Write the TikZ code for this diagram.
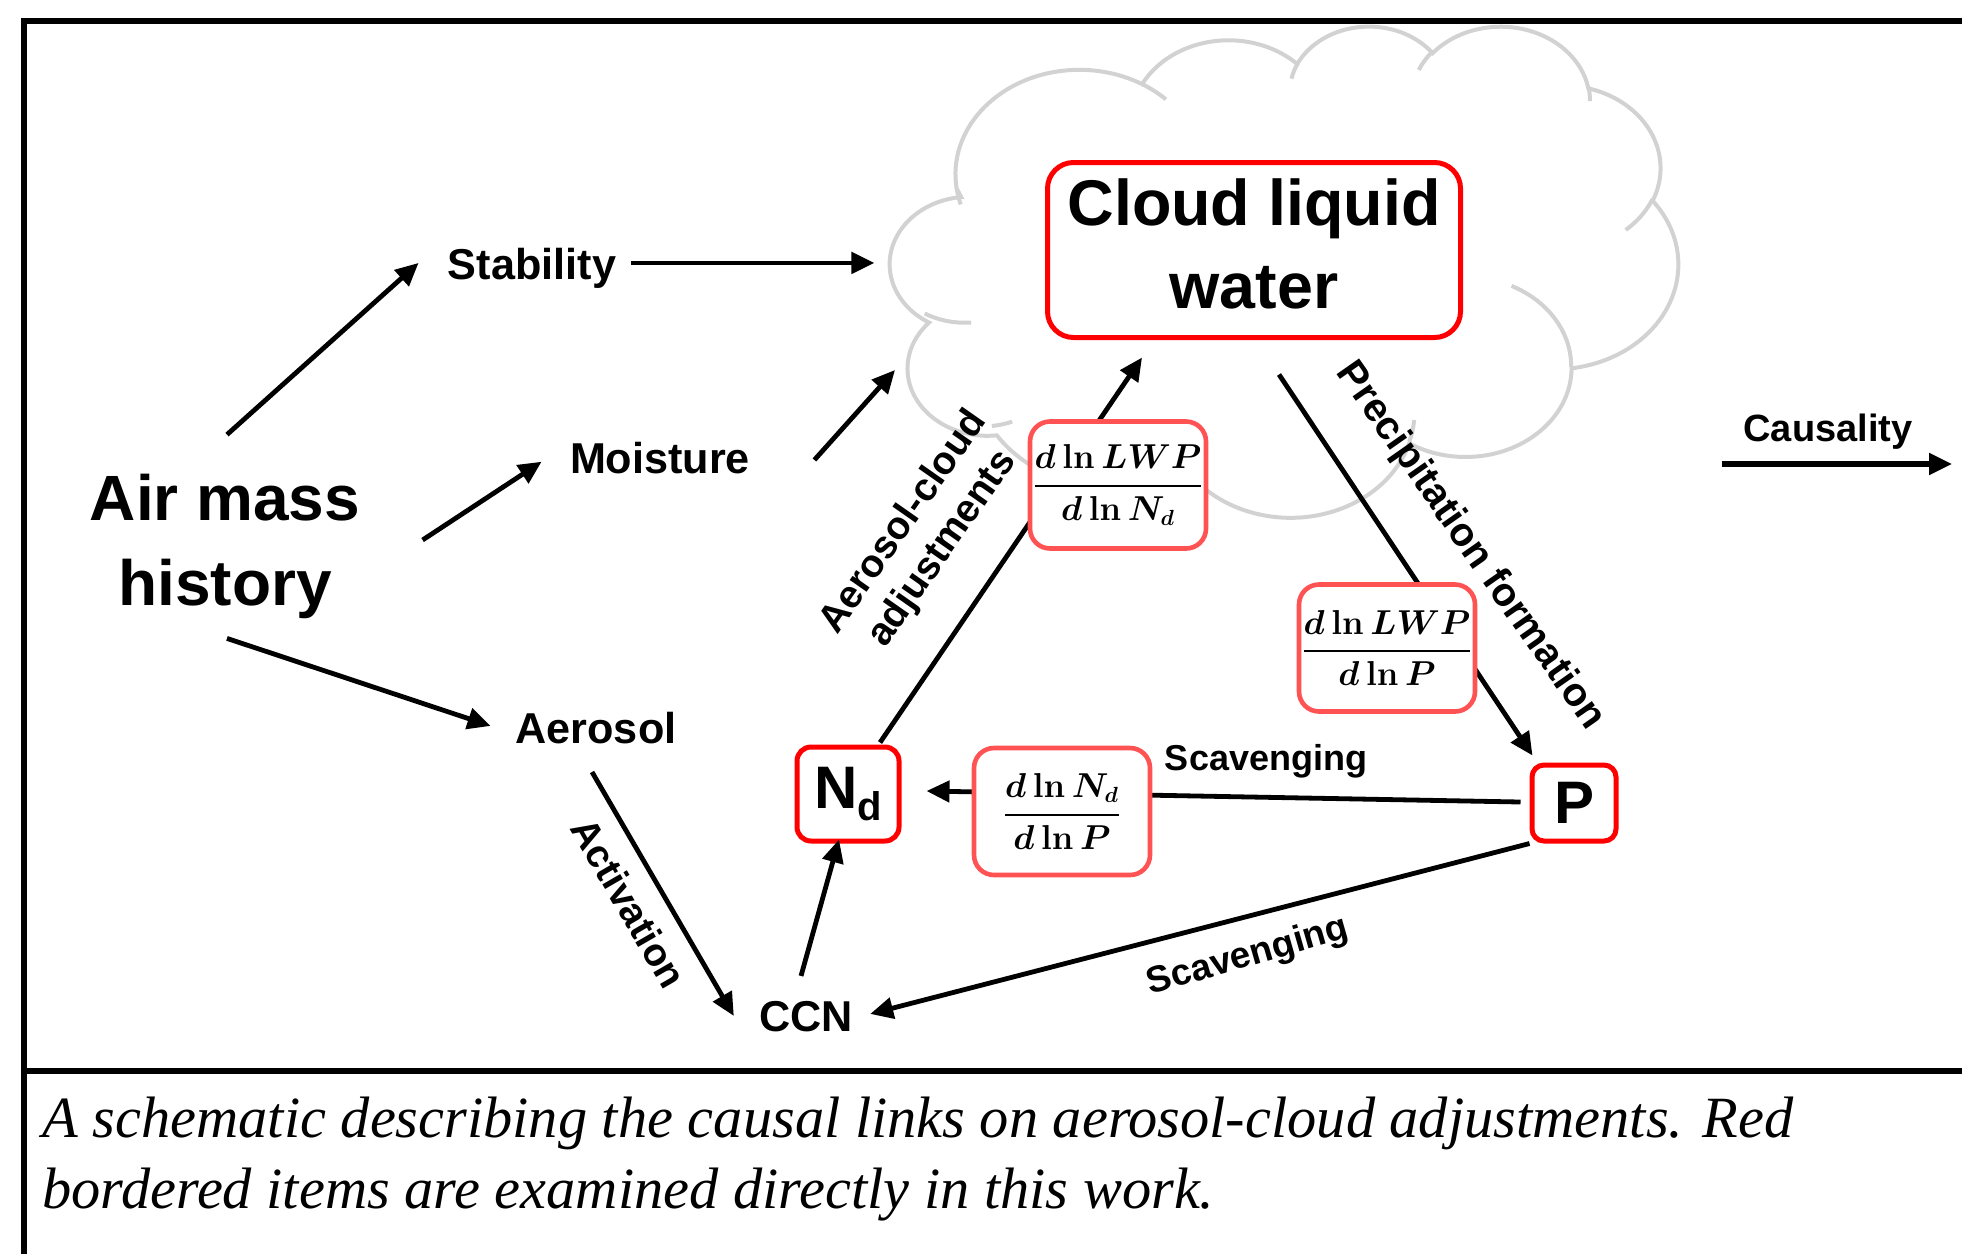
\documentclass[tikz,border=0pt]{standalone}
\usepackage{amsmath}
\usepackage[no-math]{fontspec}
\setmainfont{Liberation Sans}
\newfontfamily\capfont{Liberation Serif}
\usetikzlibrary{arrows.meta}
\definecolor{boxred}{RGB}{255,0,0}
\definecolor{fracred}{RGB}{255,82,82}
\definecolor{cloudgray}{RGB}{210,210,210}
\newcommand\cldprep[5]{%
  \pgfmathsetmacro\cldS{atan2((#2)*sin(#4),(#3)*cos(#4))}%
  \pgfmathsetmacro\cldE{atan2((#2)*sin((#4)+(#5)),(#3)*cos((#4)+(#5)))}%
  \pgfmathsetmacro\cldE{(\cldE<\cldS)?(\cldE+360):(\cldE)}%
  \edef\cldtmp{\noexpand\tikzset{#1/.style={start angle=\cldS,end angle=\cldE,x radius=#2,y radius=#3}}}%
  \cldtmp}
\newcommand\lnfrac[2]{\genfrac{}{}{1.1pt}{0}{#1}{#2}}
\cldprep{cka}{15.632}{21.273}{-190.4875}{123.7805}
\cldprep{ckb}{12.345}{16.822}{-144.1024}{89.9452}
\cldprep{ckc}{10.104}{13.762}{-145.8079}{99.7230}
\cldprep{ckd}{11.243}{15.266}{-130.9861}{117.2417}
\cldprep{cke}{12.345}{16.836}{-78.7089}{109.0269}
\cldprep{ckf}{15.683}{21.343}{-46.2673}{130.2690}
\cldprep{ckg}{13.391}{18.211}{0.6250}{114.0333}
\cldprep{ckh}{15.630}{21.331}{22.4516}{115.1726}
\cldprep{cki}{17.870}{24.405}{66.2426}{71.2560}
\cldprep{ckj}{10.093}{13.699}{-274.9421}{146.7355}
\cldprep{ckk}{10.058}{13.762}{-246.8285}{152.5213}
\cldprep{cda}{10.058}{13.762}{86.7420}{26.4295}
\cldprep{cdb}{10.093}{13.699}{73.6105}{11.4475}
\cldprep{cdc}{15.630}{21.331}{137.6242}{14.0811}
\cldprep{cdd}{15.630}{21.331}{6.4533}{15.9984}
\cldprep{cde}{13.391}{18.211}{-70.2924}{70.9174}
\cldprep{cdf}{12.345}{16.836}{30.3180}{27.7515}
\cldprep{cdg}{11.243}{15.266}{-13.7443}{14.8589}
\cldprep{cdh}{11.243}{15.266}{-149.1815}{18.1954}
\cldprep{cdi}{10.104}{13.762}{-163.4943}{17.6864}
\cldprep{cdj}{15.632}{21.273}{-66.7070}{12.3194}
\cldprep{cdk}{15.632}{21.273}{157.6544}{11.8582}
\begin{document}
\begin{tikzpicture}[x=0.5pt,y=-0.5pt,
  arr/.style={line width=2.4pt,-{Triangle[length=11.5pt,width=10.5pt]}},
  txt/.style={inner sep=0pt,font=\fontsize{21.6}{26}\selectfont\bfseries},
  elbl/.style={inner sep=0pt,font=\fontsize{19.5}{23.5}\selectfont\bfseries},
  redbox/.style={draw=boxred,line width=2.5pt,fill=white,inner sep=0pt,font=\fontsize{30}{36}\selectfont\bfseries},
  fracbox/.style={draw=fracred,line width=2.3pt,fill=white,rounded corners=10pt,inner sep=0pt,minimum width=88pt,minimum height=63.5pt,font=\fontsize{16.2}{20}\selectfont\boldmath},
  cloudln/.style={draw=cloudgray,line width=2pt},
  frameln/.style={line width=2.8pt}]
\useasboundingbox (0,0) rectangle (1962,1254);
\draw[frameln] (1962,21) -- (24,21) -- (24,1254);
\draw[frameln] (24,1071) -- (1962,1071);
% cloud
\begin{scope}[shift={(885,25)},xscale=7.93,yscale=4.91]
\draw[cloudln,fill=white] (9.028,33.264) arc[cka] arc[ckb] arc[ckc] arc[ckd] arc[cke] arc[ckf] arc[ckg] arc[ckh] arc[cki] arc[ckj] arc[ckk] -- cycle;
\draw[cloudln] (10.863,60.595) arc[cda] (16.037,80.785) arc[cdb] (38.144,90.486) arc[cdc] (66.729,80.442) arc[cdd] (79.002,53.134) arc[cde] (96.755,35.542) arc[cdf] (88.713,12.560) arc[cdg] (67.310,9.148) arc[cdh] (51.252,10.926) arc[cdi] (32.407,12.019) arc[cdj] (9.553,36.549) arc[cdk];
\end{scope}
% nodes
\node[txt,font=\fontsize{32}{42.5}\selectfont\bfseries,anchor=base] (amh) at (225,520) {\begin{tabular}[t]{@{}c@{}}Air mass\\history\end{tabular}};
\node[txt,anchor=base] (stab) at (532,279) {Stability};
\node[txt,anchor=base] (moist) at (660,473) {Moisture};
\node[txt,anchor=base] (aer) at (596,743) {Aerosol};
\node[txt,anchor=base] (ccn) at (806,1031) {CCN};
\node[redbox,minimum width=206.5pt,minimum height=87.5pt,rounded corners=13pt,font=\fontsize{32.3}{41.5}\selectfont\bfseries] (clw) at (1254,250) {\begin{tabular}{@{}c@{}}Cloud liquid\\water\end{tabular}};
\node[redbox,minimum width=51pt,minimum height=47pt,rounded corners=7pt] (nd) at (848,794) {N\raisebox{-6pt}{\fontsize{20}{24}\selectfont d}};
\node[redbox,minimum width=42pt,minimum height=38pt,rounded corners=6pt] (p) at (1574,803) {P};
\node[txt,font=\fontsize{19}{23}\selectfont\bfseries,anchor=base] (caus) at (1828,441) {Causality};
\coordinate (cl1) at ([xshift=129pt,yshift=5.4pt]stab.mid east);
\coordinate (cl2) at (895,370);
% connectors
\draw[arr] ([xshift=1pt,yshift=12.75pt]amh.north) -- ([xshift=-14.5pt,yshift=5.4pt]stab.mid west);
\draw[arr] ([xshift=31pt,yshift=2.75pt]amh.east) -- ([xshift=-14pt,yshift=3pt]moist.mid west);
\draw[arr] ([xshift=1pt,yshift=-3.75pt]amh.south) -- ([xshift=-12.3pt,yshift=5.9pt]aer.mid west);
\draw[arr] ([xshift=7.5pt,yshift=5.4pt]stab.mid east) -- (cl1);
\draw[arr] ([xshift=32pt,yshift=3.9pt]moist.mid east) -- (cl2);
\draw[arr] ([xshift=-2pt,yshift=-14.5pt]aer.base) -- ([xshift=-12.5pt,yshift=4.9pt]ccn.mid west);
\draw[arr] ([xshift=-2.5pt,yshift=12.25pt]ccn.north) -- ([xshift=-4.5pt,yshift=2pt]nd.south);
\draw[arr] ([xshift=16pt,yshift=1pt]nd.north) -- ([xshift=-56pt,yshift=-8.75pt]clw.south);
\draw[arr] ([xshift=12.5pt,yshift=-17.25pt]clw.south) -- ([xshift=1.5pt,yshift=3.5pt]p.north west);
\draw[arr] ([xshift=-4.5pt,yshift=0.5pt]p.west) -- ([xshift=12.5pt,yshift=1.5pt]nd.east);
\draw[arr] (p.south west) -- ([xshift=8.5pt,yshift=5.9pt]ccn.mid east);
\draw[arr,line width=2.6pt] ([xshift=-53pt,yshift=-11.5pt]caus.base) -- ([xshift=62pt,yshift=-11.5pt]caus.base);
% fraction boxes
\node[fracbox] (f1) at (1118,485) {$\displaystyle\lnfrac{d\ln LWP}{d\ln N_d}$};
\node[fracbox] (f2) at (1387,648) {$\displaystyle\lnfrac{d\ln LWP}{d\ln P}$};
\node[fracbox] (f3) at (1062,811.5) {$\displaystyle\lnfrac{d\ln N_d}{d\ln P}$};
% edge labels
\node[elbl,rotate=55] (lacs) at (924,536) {\begin{tabular}{@{}c@{}}Aerosol-cloud\\adjustments\end{tabular}};
\node[elbl,font=\fontsize{20}{24}\selectfont\bfseries,rotate=-55] (lpf) at (1470,546) {Precipitation formation};
\node[elbl,rotate=-60] (lact) at (629,903) {Activation};
\node[elbl,font=\fontsize{18}{22}\selectfont\bfseries,anchor=base] (lsc1) at (1266,770) {Scavenging};
\node[elbl,font=\fontsize{18.5}{22}\selectfont\bfseries,rotate=16] (lsc2) at (1248,957) {Scavenging};
% caption
\node[inner sep=0pt,anchor=base west,font=\capfont\itshape\fontsize{29.2}{35.5}\selectfont] (cap) at (42,1137) {\begin{tabular}[t]{@{}l@{}}A schematic describing the causal links on aerosol-cloud adjustments. Red\\bordered items are examined directly in this work.\end{tabular}};
\end{tikzpicture}
\end{document}
